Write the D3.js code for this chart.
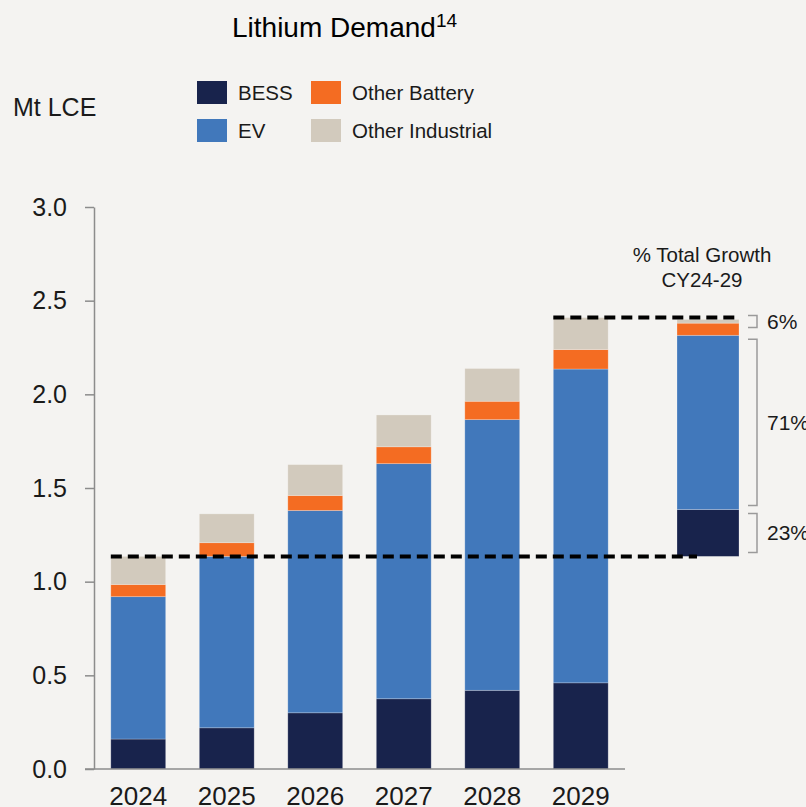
<!DOCTYPE html>
<html>
<head>
<meta charset="utf-8">
<script src="https://cdn.jsdelivr.net/npm/d3@7"></script>
<style>
  html, body { margin: 0; padding: 0; background: #f4f3f1; }
  svg { display: block; font-family: "Liberation Sans", Arial, sans-serif; }
</style>
</head>
<body>
<div id="chart"></div>
<script>
/* Data (Mt LCE) */
const years = ["2024", "2025", "2026", "2027", "2028", "2029"];
const bess = [0.16, 0.22, 0.30, 0.375, 0.42, 0.46];
const ev = [0.76, 0.915, 1.08, 1.255, 1.445, 1.675];
const otherBattery = [0.065, 0.073, 0.08, 0.09, 0.098, 0.104];
const otherIndustrial = [0.15, 0.154, 0.165, 0.17, 0.175, 0.171];

const seriesNames = ["BESS", "EV", "Other Battery", "Other Industrial"];
const seriesColors = ["#18234c", "#4178bb", "#f46c22", "#d2cabd"];

/* growth bar CY24-29, drawn as it appears in the reference */
const growthValues = [0.25, 0.93, 0.065, 0.02];
const growthLabels = ["23%", "71%", "6%"];
const yTicks = [0, 0.5, 1.0, 1.5, 2.0, 2.5, 3.0];

/* Layout */
const W = 806, H = 807;
const svg = d3.select("#chart").append("svg")
    .attr("width", W)
    .attr("height", H);

svg.append("rect").attr("width", W).attr("height", H).attr("fill", "#f4f3f1");

let x = d3.scaleBand()
    .domain(years)
    .range([94, 625])
    .paddingInner(0.38)
    .paddingOuter(0.19);

let y = d3.scaleLinear()
    .domain([0, 3])
    .range([769, 207]);

/* Stack the series */
let table = years.map(function (yr, i) {
    return { year: yr, "BESS": bess[i], "EV": ev[i], "Other Battery": otherBattery[i], "Other Industrial": otherIndustrial[i] };
});
let stacked = d3.stack().keys(seriesNames)(table);

/* Title */
let title = svg.append("text")
    .attr("x", 232)
    .attr("y", 37)
    .attr("font-size", 28)
    .attr("fill", "#000")
    .text("Lithium Demand");
title.append("tspan")
    .attr("font-size", 19)
    .attr("dy", -10)
    .text("14");

/* Units */
svg.append("text")
    .attr("x", 13)
    .attr("y", 107)
    .attr("dy", "0.35em")
    .attr("font-size", 25)
    .attr("fill", "#1a1a1a")
    .text("Mt LCE");

/* Legend */
const legendPos = [[197, 81], [197, 119], [311, 81], [311, 119]];
seriesNames.forEach(function (name, i) {
    let g = svg.append("g").attr("transform", "translate(" + legendPos[i][0] + "," + legendPos[i][1] + ")");
    g.append("rect").attr("width", 30).attr("height", 23).attr("fill", seriesColors[i]);
    g.append("text")
        .attr("x", 41)
        .attr("y", 12)
        .attr("dy", "0.35em")
        .attr("font-size", 20.5)
        .attr("fill", "#1a1a1a")
        .text(name);
});

/* Y axis */
let yAxis = svg.append("g")
    .attr("transform", "translate(94,0)")
    .call(d3.axisLeft(y).tickValues(yTicks).tickFormat(d3.format(".1f")).tickSize(9).tickSizeOuter(0).tickPadding(18));
yAxis.select(".domain").attr("stroke", "#8c8c8c").attr("stroke-width", 1.5);
yAxis.selectAll(".tick line").attr("stroke", "#8c8c8c").attr("stroke-width", 1.5);
yAxis.selectAll(".tick text")
    .attr("font-size", 25)
    .attr("font-family", "Liberation Sans, Arial, sans-serif")
    .attr("fill", "#1a1a1a");

/* Bars */
svg.append("g").selectAll("g")
    .data(stacked)
    .enter().append("g")
    .attr("fill", function (d, i) { return seriesColors[i]; })
    .selectAll("rect")
    .data(function (d) { return d; })
    .enter().append("rect")
    .attr("x", function (d) { return x(d.data.year); })
    .attr("y", function (d) { return y(d[1]); })
    .attr("width", x.bandwidth())
    .attr("height", function (d) { return y(d[0]) - y(d[1]); })
    .attr("stroke", "#ffffff")
    .attr("stroke-opacity", 0.3)
    .attr("stroke-width", 0.8);

/* X axis */
svg.append("line")
    .attr("x1", 85).attr("x2", 625)
    .attr("y1", y(0)).attr("y2", y(0))
    .attr("stroke", "#8c8c8c").attr("stroke-width", 1.5);
let xAxis = svg.append("g")
    .attr("transform", "translate(0," + y(0) + ")")
    .call(d3.axisBottom(x).tickSize(0).tickPadding(18));
xAxis.select(".domain").remove();
xAxis.selectAll(".tick text")
    .attr("font-size", 26)
    .attr("font-family", "Liberation Sans, Arial, sans-serif")
    .attr("fill", "#1a1a1a");

/* Growth bar */
const startTotal = bess[0] + ev[0] + otherBattery[0] + otherIndustrial[0];
const endTotal = bess[5] + ev[5] + otherBattery[5] + otherIndustrial[5];
const gx = 677, gw = 62;
let base = startTotal;
let growthSegs = growthValues.map(function (v, i) {
    let seg = { y0: base, y1: base + v, color: seriesColors[i] };
    base += v;
    return seg;
});
svg.append("g").selectAll("rect")
    .data(growthSegs)
    .enter().append("rect")
    .attr("x", gx)
    .attr("width", gw)
    .attr("y", function (d) { return y(d.y1); })
    .attr("height", function (d) { return y(d.y0) - y(d.y1); })
    .attr("fill", function (d) { return d.color; })
    .attr("stroke", "#ffffff")
    .attr("stroke-opacity", 0.3)
    .attr("stroke-width", 0.8);

/* Dashed reference lines */
svg.append("line")
    .attr("x1", x(years[0])).attr("x2", 697)
    .attr("y1", y(startTotal)).attr("y2", y(startTotal))
    .attr("stroke", "#000").attr("stroke-width", 4)
    .attr("stroke-dasharray", "11,6");
svg.append("line")
    .attr("x1", x(years[5])).attr("x2", gx + gw)
    .attr("y1", y(endTotal)).attr("y2", y(endTotal))
    .attr("stroke", "#000").attr("stroke-width", 4)
    .attr("stroke-dasharray", "11,6");

/* Growth header */
svg.append("text")
    .attr("x", 702).attr("y", 262)
    .attr("text-anchor", "middle")
    .attr("font-size", 20.5)
    .attr("fill", "#1a1a1a")
    .text("% Total Growth");
svg.append("text")
    .attr("x", 702).attr("y", 287)
    .attr("text-anchor", "middle")
    .attr("font-size", 20.5)
    .attr("fill", "#1a1a1a")
    .text("CY24-29");

/* Brackets with labels: BESS, EV, other (battery + industrial) */
let brackets = [
    { top: growthSegs[0].y1, bottom: growthSegs[0].y0, label: growthLabels[0] },
    { top: growthSegs[1].y1, bottom: growthSegs[1].y0, label: growthLabels[1] },
    { top: growthSegs[3].y1, bottom: growthSegs[2].y0, label: growthLabels[2] }
];
const bx0 = 748, bx1 = 757;
brackets.forEach(function (b) {
    let t = y(b.top) + 4, bt = y(b.bottom) - 4;
    if (bt - t < 12) { t = y(b.top) - 4; bt = t + 12; }
    svg.append("path")
        .attr("d", "M" + bx0 + "," + t + "H" + bx1 + "V" + bt + "H" + bx0)
        .attr("fill", "none")
        .attr("stroke", "#9a9a9a")
        .attr("stroke-width", 1.5);
    svg.append("text")
        .attr("x", 767)
        .attr("y", (t + bt) / 2)
        .attr("dy", "0.35em")
        .attr("font-size", 21)
        .attr("fill", "#1a1a1a")
        .text(b.label);
});
</script>
</body>
</html>
